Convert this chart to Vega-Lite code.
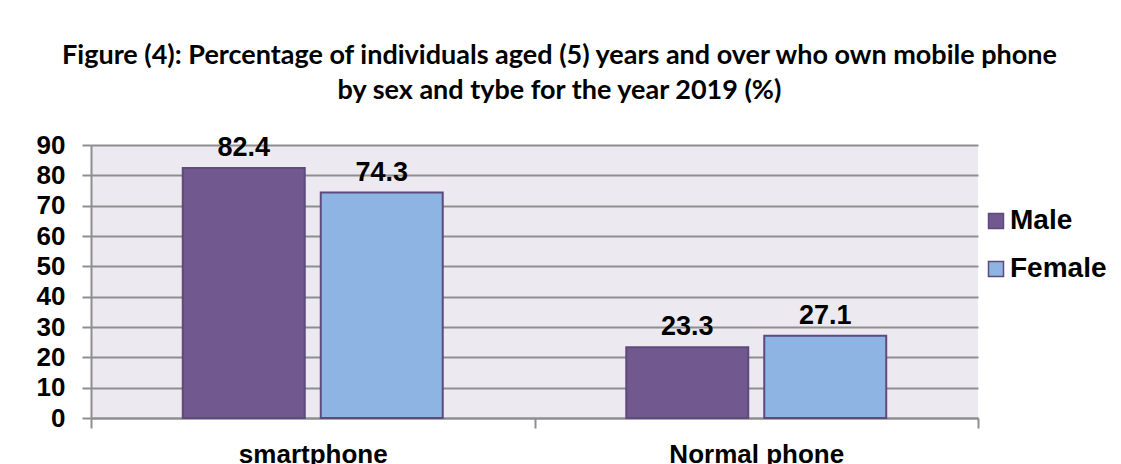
{
  "$schema": "https://vega.github.io/schema/vega-lite/v6.json",
  "width": 887,
  "height": 273,
  "autosize": {"type": "none"},
  "padding": {"left": 91, "top": 145, "right": 143, "bottom": 46},
  "background": "white",
  "title": {
    "text": ["Figure (4): Percentage of individuals aged (5) years and over who own mobile phone", "by sex and tybe for the year 2019 (%)"],
    "font": "Lato",
    "fontSize": 27,
    "fontWeight": "bold",
    "color": "black",
    "anchor": "middle",
    "frame": "group",
    "dx": 25,
    "lineHeight": 35,
    "offset": 27
  },
  "config": {
    "view": {"fill": "#ECEAF0", "stroke": null}
  },
  "data": {
    "values": [
      {"type": "smartphone", "sex": "Male", "value": 82.4},
      {"type": "smartphone", "sex": "Female", "value": 74.3},
      {"type": "Normal phone", "sex": "Male", "value": 23.3},
      {"type": "Normal phone", "sex": "Female", "value": 27.1}
    ]
  },
  "encoding": {
    "x": {
      "field": "type",
      "type": "nominal",
      "sort": ["smartphone", "Normal phone"],
      "scale": {"paddingInner": 0, "paddingOuter": 0},
      "axis": {
        "title": null,
        "labelAngle": 0,
        "tickBand": "extent",
        "labelFont": "Liberation Sans",
        "labelFontWeight": "bold",
        "labelFontSize": 26,
        "labelColor": "black",
        "labelPadding": 13,
        "tickSize": 10,
        "tickColor": "#8E8E8E",
        "tickWidth": 2,
        "domainColor": "#8E8E8E",
        "domainWidth": 2
      }
    },
    "xOffset": {
      "field": "sex",
      "sort": ["Male", "Female"],
      "scale": {"paddingInner": 0.116, "paddingOuter": 0.665}
    },
    "y": {
      "field": "value",
      "type": "quantitative",
      "scale": {"domain": [0, 90], "nice": false},
      "axis": {
        "title": null,
        "values": [0, 10, 20, 30, 40, 50, 60, 70, 80, 90],
        "labelFont": "Liberation Sans",
        "labelFontWeight": "bold",
        "labelFontSize": 26,
        "labelColor": "black",
        "labelPadding": 17,
        "tickSize": 9,
        "tickColor": "#8E8E8E",
        "tickWidth": 2,
        "domainColor": "#8E8E8E",
        "domainWidth": 2,
        "gridColor": "#8E8E8E",
        "gridWidth": 2
      }
    }
  },
  "layer": [
    {
      "mark": {"type": "bar", "stroke": "#5E4A7D", "strokeWidth": 2},
      "encoding": {
        "color": {
          "field": "sex",
          "type": "nominal",
          "sort": ["Male", "Female"],
          "scale": {"domain": ["Male", "Female"], "range": ["#71588F", "#8DB4E2"]},
          "legend": {
            "title": null,
            "orient": "none",
            "legendX": 891,
            "legendY": 62,
            "padding": 0,
            "symbolType": "square",
            "symbolSize": 225,
            "symbolStrokeColor": "#5E4A7D",
            "symbolStrokeWidth": 1.5,
            "labelFont": "Liberation Sans",
            "labelFontWeight": "bold",
            "labelFontSize": 28,
            "labelColor": "black",
            "labelOffset": 0,
            "rowPadding": 20
          }
        }
      }
    },
    {
      "mark": {"type": "text", "baseline": "alphabetic", "dy": -12, "font": "Liberation Sans", "fontWeight": "bold", "fontSize": 27, "color": "black"},
      "encoding": {"text": {"field": "value", "type": "quantitative", "format": ".1f"}}
    }
  ]
}
